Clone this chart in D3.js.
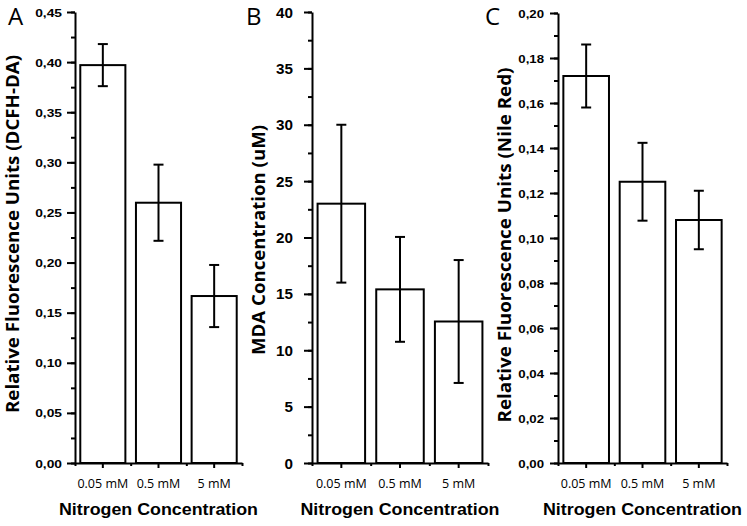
<!DOCTYPE html>
<html>
<head>
<meta charset="utf-8">
<script src="https://cdn.jsdelivr.net/npm/d3@7"></script>
<style>
  html, body { margin: 0; padding: 0; background: #fff; }
  svg { display: block; }
</style>
</head>
<body>
<svg id="chart" width="747" height="526"></svg>
<script>
// ---- Data ----
const categories = ["0.05 mM", "0.5 mM", "5 mM"];

const dcfhMeans = [0.397, 0.2597, 0.1666];
const dcfhErrors = [0.021, 0.038, 0.031];

const mdaMeans = [23.0, 15.4, 12.55];
const mdaErrors = [7.0, 4.65, 5.45];

const nileMeans = [0.172, 0.125, 0.108];
const nileErrors = [0.014, 0.0173, 0.013];

const panelLetters = ["A", "B", "C"];
const yTitles = [
  "Relative Fluorescence Units (DCFH-DA)",
  "MDA Concentration (uM)",
  "Relative Fluorescence Units (Nile Red)"
];
const xTitle = "Nitrogen Concentration";

// ---- Layout (positions / styles) ----
const svg = d3.select("#chart");
const yBottom = 463;

const panels = [
  { letter: panelLetters[0], means: dcfhMeans, errors: dcfhErrors, yTitle: yTitles[0],
    x0: 75, x1: 242, yTop: 12, yMax: 0.45, major: 0.05, minor: 0.025,
    fmt: v => d3.format(".2f")(v).replace(".", ","), tickFont: 11.5, tickStretch: 1.2, labelGap: 13,
    letterX: 8, titleX: 13, titleY: 234, titleLen: 358 },
  { letter: panelLetters[1], means: mdaMeans, errors: mdaErrors, yTitle: yTitles[1],
    x0: 312, x1: 488, yTop: 12, yMax: 40, major: 5, minor: 2.5,
    fmt: v => d3.format("d")(v), tickFont: 14.5, tickStretch: 1.05, labelGap: 19,
    letterX: 246, titleX: 259, titleY: 240, titleLen: 230 },
  { letter: panelLetters[2], means: nileMeans, errors: nileErrors, yTitle: yTitles[2],
    x0: 558, x1: 727, yTop: 13, yMax: 0.20, major: 0.02, minor: 0.01,
    fmt: v => d3.format(".2f")(v).replace(".", ","), tickFont: 11.5, tickStretch: 1.15, labelGap: 14,
    letterX: 485, titleX: 505, titleY: 245, titleLen: 355 }
];

panels.forEach(p => {
  const g = svg.append("g");

  const y = d3.scaleLinear().domain([0, p.yMax]).range([yBottom, p.yTop]);
  const x = d3.scaleBand().domain(categories).range([p.x0, p.x1])
    .paddingInner(0.19).paddingOuter(0.095);
  const xEdges = d3.scaleLinear().domain([0, categories.length]).range([p.x0, p.x1]);

  const majorVals = d3.range(0, p.yMax + p.major / 2, p.major);
  const minorVals = d3.range(0, p.yMax + p.minor / 2, p.minor);

  // minor y ticks
  g.append("g")
    .attr("transform", `translate(${p.x0},0)`)
    .call(d3.axisLeft(y).tickValues(minorVals).tickSize(4).tickFormat(""))
    .call(s => s.select(".domain").remove())
    .call(s => s.selectAll("line").attr("stroke", "#000").attr("stroke-width", 2));

  // major y ticks with labels
  const ya = g.append("g")
    .attr("transform", `translate(${p.x0},0)`)
    .call(d3.axisLeft(y).tickValues(majorVals).tickSize(8).tickSizeOuter(0).tickFormat(p.fmt));
  ya.attr("font-size", null).attr("font-family", null);
  ya.select(".domain").attr("stroke", "#000").attr("stroke-width", 2);
  ya.selectAll("line").attr("stroke", "#000").attr("stroke-width", 2);
  ya.selectAll("text")
    .style("font-family", "'Liberation Sans', Arial, sans-serif")
    .style("font-weight", "bold")
    .style("font-size", p.tickFont + "px")
    .attr("fill", "#000")
    .attr("x", -p.labelGap / p.tickStretch)
    .attr("dy", "0.35em")
    .attr("transform", `scale(${p.tickStretch},1)`);

  // bars
  g.selectAll("rect.bar")
    .data(categories)
    .join("rect")
    .attr("class", "bar")
    .attr("x", d => x(d))
    .attr("width", x.bandwidth())
    .attr("y", (d, i) => y(p.means[i]))
    .attr("height", (d, i) => yBottom - y(p.means[i]))
    .attr("fill", "#fff")
    .attr("stroke", "#000")
    .attr("stroke-width", 2);

  // x axis minor ticks at band edges
  g.append("g")
    .attr("transform", `translate(0,${yBottom})`)
    .call(d3.axisBottom(xEdges).tickValues(d3.range(0, categories.length + 1)).tickSize(3).tickFormat(""))
    .call(s => s.select(".domain").remove())
    .call(s => s.selectAll("line").attr("stroke", "#000").attr("stroke-width", 2));

  // x axis major ticks at categories
  const xa = g.append("g")
    .attr("transform", `translate(0,${yBottom})`)
    .call(d3.axisBottom(x).tickSize(5).tickSizeOuter(0));
  xa.attr("font-size", null).attr("font-family", null);
  xa.select(".domain").attr("stroke", "#000").attr("stroke-width", 2);
  xa.selectAll("line").attr("stroke", "#000").attr("stroke-width", 2);
  xa.selectAll("text")
    .style("font-family", "'Open Sans', sans-serif")
    .style("font-size", "12.5px")
    .attr("fill", "#000")
    .attr("y", 24.5)
    .attr("dy", 0);

  // error bars
  const eb = g.selectAll("g.err").data(categories).join("g").attr("class", "err");
  const cx = d => x(d) + x.bandwidth() / 2;
  const capHalf = 5;
  eb.append("line")
    .attr("x1", cx).attr("x2", cx)
    .attr("y1", (d, i) => y(p.means[i] + p.errors[i]))
    .attr("y2", (d, i) => y(p.means[i] - p.errors[i]))
    .attr("stroke", "#000").attr("stroke-width", 2);
  eb.append("line")
    .attr("x1", d => cx(d) - capHalf).attr("x2", d => cx(d) + capHalf)
    .attr("y1", (d, i) => y(p.means[i] + p.errors[i]))
    .attr("y2", (d, i) => y(p.means[i] + p.errors[i]))
    .attr("stroke", "#000").attr("stroke-width", 2);
  eb.append("line")
    .attr("x1", d => cx(d) - capHalf).attr("x2", d => cx(d) + capHalf)
    .attr("y1", (d, i) => y(p.means[i] - p.errors[i]))
    .attr("y2", (d, i) => y(p.means[i] - p.errors[i]))
    .attr("stroke", "#000").attr("stroke-width", 2);

  // y title
  g.append("text")
    .attr("transform", `translate(${p.titleX},${p.titleY}) rotate(-90)`)
    .attr("text-anchor", "middle")
    .attr("dy", "0.35em")
    .style("font-family", "'Open Sans', sans-serif")
    .style("font-weight", "bold")
    .style("font-size", "18.5px")
    .attr("textLength", p.titleLen)
    .attr("lengthAdjust", "spacingAndGlyphs")
    .attr("fill", "#000")
    .text(p.yTitle);

  // x title
  g.append("text")
    .attr("x", (p.x0 + p.x1) / 2)
    .attr("y", 515)
    .attr("text-anchor", "middle")
    .style("font-family", "'Liberation Sans', Arial, sans-serif")
    .style("font-weight", "bold")
    .style("font-size", "16px")
    .attr("textLength", 199)
    .attr("lengthAdjust", "spacingAndGlyphs")
    .attr("fill", "#000")
    .text(xTitle);

  // panel letter
  g.append("text")
    .attr("x", p.letterX)
    .attr("y", 25)
    .style("font-family", "'Open Sans', sans-serif")
    .style("font-size", "24px")
    .attr("fill", "#000")
    .text(p.letter);
});
</script>
</body>
</html>
